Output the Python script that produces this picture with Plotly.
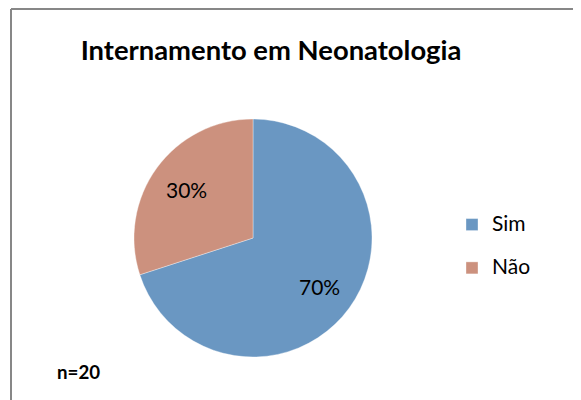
import math
import plotly.graph_objects as go

title = "Internamento em Neonatologia"
categories = ["Sim", "Não"]
values = [70, 30]
colors = ["#6A97C2", "#CC917E"]
note = "n=20"

W, H = 581, 400
# page has an 8px body margin; coordinates below are figure pixels
cx, cy, r = 245, 230, 119
FONT = "Lato, sans-serif"

fig = go.Figure(go.Pie(
    labels=["<span style='font-size:21px'>" + c + "</span><br>\u00a0" for c in categories],
    values=values,
    sort=False,
    direction="clockwise",
    rotation=0,
    marker=dict(colors=colors, line=dict(color="rgba(255,255,255,0.35)", width=1)),
    textinfo="none",
    hoverinfo="skip",
    domain=dict(x=[(cx - r) / W, (cx + r) / W], y=[(H - cy - r) / H, (H - cy + r) / H]),
))

# percentage labels placed at slice mid-angles, computed from the data
total = sum(values)
annotations = []
cum = 0.0
for v in values:
    mid = (cum + v / 2) / total * 2 * math.pi
    cum += v
    f = 0.69
    px = cx + r * f * math.sin(mid)
    py = cy - r * f * math.cos(mid)
    annotations.append(dict(text=f"{round(100 * v / total)}%", x=px / W, y=1 - py / H,
                            xref="paper", yref="paper", xanchor="center", yanchor="middle",
                            showarrow=False, font=dict(family=FONT, size=21, color="#000000")))

annotations.append(dict(text="<b>" + note + "</b>", x=47 / W, xanchor="left",
                        y=1 - 364 / H, yanchor="middle", xref="paper", yref="paper",
                        showarrow=False, font=dict(family=FONT, size=18.7, color="#000000")))

fig.update_layout(
    width=W, height=H,
    margin=dict(l=0, r=0, t=0, b=0),
    paper_bgcolor="white",
    plot_bgcolor="white",
    font=dict(family=FONT, color="#000000"),
    title=dict(text="<b>" + title + "</b>", x=263 / W, xanchor="center",
               y=1 - 42 / H, yanchor="middle",
               font=dict(family=FONT, size=27.4, color="#000000")),
    showlegend=True,
    legend=dict(x=444 / W, xanchor="left", y=1 - 200 / H, yanchor="top",
                valign="top", font=dict(size=15.5, color="#000000"),
                bgcolor="rgba(0,0,0,0)"),
    annotations=annotations,
    shapes=[
        dict(type="line", xref="paper", yref="paper", x0=3 / W, x1=1.0, y0=1 - 1 / H, y1=1 - 1 / H,
             line=dict(color="#878787", width=2)),
        dict(type="line", xref="paper", yref="paper", x0=3 / W, x1=3 / W, y0=0, y1=1 - 1 / H,
             line=dict(color="#878787", width=2)),
    ],
)

fig.write_html("out.html")
